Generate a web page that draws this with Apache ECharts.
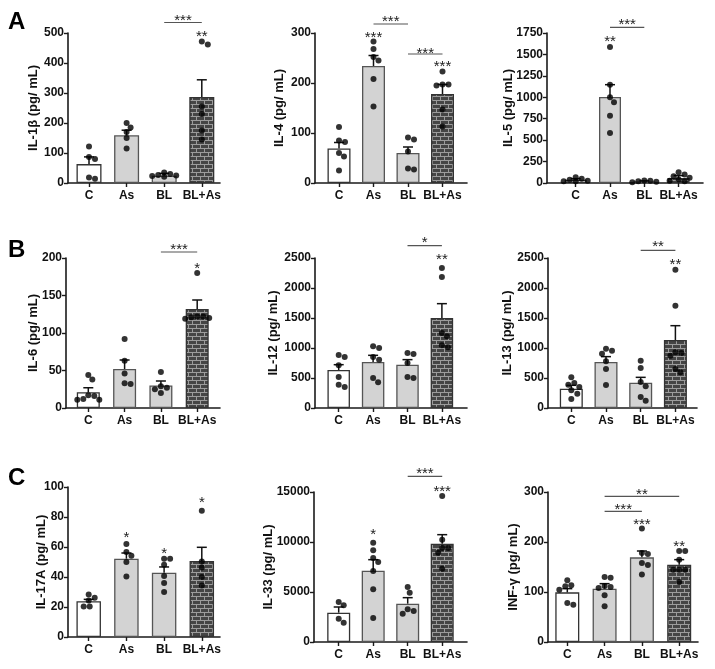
<!DOCTYPE html>
<html><head><meta charset="utf-8">
<script src="https://cdn.jsdelivr.net/npm/echarts@6/dist/echarts.min.js"></script>
<style>html,body{margin:0;padding:0;background:#fff}#chart{width:715px;height:669px}</style>
</head><body><div id="chart"></div>
<script>
// ---------- DATA ----------
const categories = ['C', 'As', 'BL', 'BL+As'];

// IL-1β
const IL1B_ticks = [0, 100, 200, 300, 400, 500];
const IL1B_mean = [63, 159, 24, 287];
const IL1B_sem = [24, 17, 8, 57];
const IL1B_pts = [[122, 87, 80, 18, 14], [200, 185, 170, 150, 115], [35, 30, 27, 25, 23, 21], [472, 462, 255, 230, 175, 145]];
const IL1B_sig = [{ from: 2, to: 3, y: 535, ty: 555, text: '***' }, { at: 3, ty: 500, text: '**' }];

// IL-4
const IL4_ticks = [0, 100, 200, 300];
const IL4_mean = [69, 234, 60, 178];
const IL4_sem = [12, 21, 12, 19];
const IL4_pts = [[112, 85, 82, 60, 53, 25], [283, 268, 252, 245, 208, 153], [91, 87, 63, 29, 27], [223, 197, 197, 195, 147, 113]];
const IL4_sig = [{ from: 1, to: 2, y: 318, ty: 330, text: '***' }, { from: 2, to: 3, y: 258, ty: 267, text: '***' }, { at: 1, ty: 298, text: '***' }, { at: 3, ty: 240, text: '***' }];

// IL-5
const IL5_ticks = [0, 250, 500, 750, 1000, 1250, 1500, 1750];
const IL5_mean = [39, 1003, 19, 58];
const IL5_sem = [11, 144, 6, 28];
const IL5_pts = [[66, 50, 39, 27, 19, 19], [1587, 1147, 1000, 941, 786, 583], [30, 25, 20, 15, 10], [124, 100, 80, 60, 40, 25, 20]];
const IL5_sig = [{ from: 1, to: 2, y: 1816, ty: 1886, text: '***' }, { at: 1, ty: 1692, text: '**' }];

// IL-6
const IL6_ticks = [0, 50, 100, 150, 200];
const IL6_mean = [21, 52, 30, 132];
const IL6_sem = [6, 12, 6, 12];
const IL6_pts = [[44, 38, 17, 16, 12, 11, 11], [92, 63, 46, 33, 32], [48, 29, 27, 25, 20], [180, 122, 122, 121, 120, 119]];
const IL6_sig = [{ from: 2, to: 3, y: 208, ty: 216, text: '***' }, { at: 3, ty: 191, text: '*' }];

// IL-12
const IL12_ticks = [0, 500, 1000, 1500, 2000, 2500];
const IL12_mean = [633, 767, 722, 1500];
const IL12_sem = [89, 111, 84, 239];
const IL12_pts = [[883, 850, 711, 517, 389, 350], [1028, 1000, 850, 806, 500, 428], [917, 900, 750, 517, 500], [2333, 2183, 1250, 1194, 1044, 1011]];
const IL12_sig = [{ from: 2, to: 3, y: 2706, ty: 2822, text: '*' }, { at: 3, ty: 2528, text: '**' }];

// IL-13
const IL13_ticks = [0, 500, 1000, 1500, 2000, 2500];
const IL13_mean = [322, 767, 422, 1133];
const IL13_sem = [56, 89, 89, 239];
const IL13_pts = [[511, 417, 389, 350, 294, 239, 150], [989, 956, 906, 778, 650, 383], [789, 667, 433, 361, 183, 122], [2306, 1706, 928, 917, 872, 650, 594]];
const IL13_sig = [{ from: 2, to: 3, y: 2628, ty: 2750, text: '**' }, { at: 3, ty: 2456, text: '**' }];

// IL-17A
const IL17_ticks = [0, 20, 40, 60, 80, 100];
const IL17_mean = [23.8, 52.2, 42.9, 50.7];
const IL17_sem = [1.3, 3.8, 3.8, 9.1];
const IL17_pts = [[28.4, 26.2, 24.4, 20.4, 20.4], [62, 56.7, 54.2, 50, 40.4], [52.2, 52.2, 48.2, 40.7, 36, 30], [84.2, 50.4, 46.4, 40, 34.4]];
const IL17_sig = [{ at: 1, ty: 68.9, text: '*' }, { at: 2, ty: 58.2, text: '*' }, { at: 3, ty: 91.8, text: '*' }];

// IL-33
const IL33_ticks = [0, 5000, 10000, 15000];
const IL33_mean = [2933, 7133, 3833, 9833];
const IL33_sem = [567, 1100, 600, 900];
const IL33_pts = [[4000, 3667, 2333, 1933], [9933, 9167, 8400, 8000, 7100, 5267, 2400], [5500, 4933, 3267, 3100, 2833], [14600, 10233, 9400, 9400, 8933, 7333]];
const IL33_sig = [{ at: 1, ty: 11067, text: '*' }, { from: 2, to: 3, y: 16567, ty: 17167, text: '***' }, { at: 3, ty: 15433, text: '***' }];

// INF-γ
const INFG_ticks = [0, 100, 200, 300];
const INFG_mean = [99.3, 106.7, 169.3, 154.7];
const INFG_sem = [7.4, 10, 12.7, 10];
const INFG_pts = [[123.3, 113.3, 111.3, 104.7, 78, 74.7], [130, 128.7, 112, 110, 108, 93.3, 71.3], [227, 178, 176, 158, 154, 135], [182, 182, 164.7, 144.7, 144.7, 144.7, 120]];
const INFG_sig = [{ from: 1, to: 3, y: 291.3, ty: 303, text: '**' }, { from: 1, to: 2, y: 261.3, ty: 273, text: '***' }, { at: 2, ty: 243, text: '***' }, { at: 3, ty: 198, text: '**' }];

// ---------- LAYOUT ----------
const panels = [
  { name: 'IL-1β (pg/ mL)', ticks: IL1B_ticks, mean: IL1B_mean, sem: IL1B_sem, pts: IL1B_pts, sig: IL1B_sig, L: { ax: 68, c0: 89, s: 37.6, right: 220, top: 33, bottom: 183, bw: 25, gap: 28.5 } },
  { name: 'IL-4 (pg/ mL)', ticks: IL4_ticks, mean: IL4_mean, sem: IL4_sem, pts: IL4_pts, sig: IL4_sig, L: { ax: 315, c0: 339, s: 34.5, right: 467, top: 33, bottom: 183, bw: 23, gap: 29.5 } },
  { name: 'IL-5 (pg/ mL)', ticks: IL5_ticks, mean: IL5_mean, sem: IL5_sem, pts: IL5_pts, sig: IL5_sig, L: { ax: 547, c0: 575.7, s: 34.3, right: 703, top: 33, bottom: 183, bw: 22, gap: 32.5 } },
  { name: 'IL-6 (pg/ mL)', ticks: IL6_ticks, mean: IL6_mean, sem: IL6_sem, pts: IL6_pts, sig: IL6_sig, L: { ax: 66, c0: 88.3, s: 36.3, right: 220, top: 258, bottom: 408, bw: 23, gap: 26.5 } },
  { name: 'IL-12 (pg/ mL)', ticks: IL12_ticks, mean: IL12_mean, sem: IL12_sem, pts: IL12_pts, sig: IL12_sig, L: { ax: 315, c0: 338.7, s: 34.4, right: 467, top: 258, bottom: 408, bw: 22.5, gap: 35.5 } },
  { name: 'IL-13 (pg/ mL)', ticks: IL13_ticks, mean: IL13_mean, sem: IL13_sem, pts: IL13_pts, sig: IL13_sig, L: { ax: 548, c0: 571.3, s: 34.7, right: 697, top: 258, bottom: 408, bw: 23, gap: 34.5 } },
  { name: 'IL-17A (pg/ mL)', ticks: IL17_ticks, mean: IL17_mean, sem: IL17_sem, pts: IL17_pts, sig: IL17_sig, L: { ax: 68, c0: 88.7, s: 37.7, right: 220, top: 487, bottom: 637, bw: 24.5, gap: 20 } },
  { name: 'IL-33 (pg/ mL)', ticks: IL33_ticks, mean: IL33_mean, sem: IL33_sem, pts: IL33_pts, sig: IL33_sig, L: { ax: 314, c0: 338.7, s: 34.5, right: 467, top: 492, bottom: 642, bw: 23, gap: 39.5 } },
  { name: 'INF-γ (pg/ mL)', ticks: INFG_ticks, mean: INFG_mean, sem: INFG_sem, pts: INFG_pts, sig: INFG_sig, L: { ax: 548, c0: 567.3, s: 37.3, right: 698, top: 492, bottom: 642, bw: 24, gap: 28.5 } }
];

const FONT = "'Liberation Sans', Arial, sans-serif";
const AXIS = '#1a1a1a';

function brickCanvas() {
  const c = document.createElement('canvas');
  c.width = 8; c.height = 8;
  const g = c.getContext('2d');
  g.fillStyle = '#454545'; g.fillRect(0, 0, 8, 8);
  g.fillStyle = '#9c9c9c';
  g.fillRect(0, 0, 8, 1); g.fillRect(0, 4, 8, 1);
  g.fillRect(0, 1, 1, 3); g.fillRect(4, 5, 1, 3);
  return c;
}
const brick = brickCanvas();
const fills = ['#ffffff', '#d3d3d3', '#d3d3d3', { image: brick, repeat: 'repeat' }];
const borders = ['#333333', '#555555', '#555555', '#333333'];

function swarm(vals, pxPerVal, diam) {
  const placed = [];
  return vals.map(v => {
    const py = v * pxPerVal;
    const cands = [0];
    for (let k = 1; k <= 14; k++) cands.push(k, -k);
    for (const o of cands) {
      if (placed.every(p => Math.hypot(p.y - py, p.o - o) >= diam)) { placed.push({ y: py, o }); return o; }
    }
    placed.push({ y: py, o: 0 }); return 0;
  });
}

const grid = [], xAxis = [], yAxis = [], series = [];
panels.forEach((p, i) => {
  const L = p.L;
  const c3 = L.c0 + 3 * L.s;
  const ymax = p.ticks[p.ticks.length - 1];
  const pxPerVal = (L.bottom - L.top) / ymax;
  grid.push({ left: L.ax, top: L.top, width: L.right - L.ax, height: L.bottom - L.top });
  xAxis.push({
    type: 'value', gridIndex: i,
    min: -(L.c0 - L.ax) / L.s, max: 3 + (L.right - c3) / L.s,
    splitLine: { show: false },
    axisLine: { show: true, onZero: false, lineStyle: { color: AXIS, width: 1.6 } },
    axisTick: { show: true, customValues: [0, 1, 2, 3], length: 4, lineStyle: { color: AXIS, width: 1.4 } },
    axisLabel: { customValues: [0, 1, 2, 3], formatter: v => categories[Math.round(v)], fontFamily: FONT, fontWeight: 'bold', fontSize: 12, color: '#111', margin: 7 }
  });
  yAxis.push({
    type: 'value', gridIndex: i, min: p.ticks[0], max: ymax, interval: p.ticks[1] - p.ticks[0],
    name: p.name, nameLocation: 'middle', nameRotate: 90, nameGap: L.gap, nameMoveOverlap: false,
    nameTextStyle: { fontFamily: FONT, fontWeight: 'bold', fontSize: 13, color: '#111' },
    splitLine: { show: false },
    axisLine: { show: true, onZero: false, lineStyle: { color: AXIS, width: 1.6 } },
    axisTick: { show: true, length: 4, lineStyle: { color: AXIS, width: 1.4 } },
    axisLabel: { formatter: v => String(v), fontFamily: FONT, fontWeight: 'bold', fontSize: 12, color: '#111', margin: 4 }
  });
  series.push({
    type: 'bar', xAxisIndex: i, yAxisIndex: i, barWidth: L.bw, z: 2,
    data: p.mean.map((m, k) => ({ value: [k, m], itemStyle: { color: fills[k], borderColor: borders[k], borderWidth: 1.3 } }))
  });
  series.push({
    type: 'custom', xAxisIndex: i, yAxisIndex: i, z: 3,
    data: p.mean.map((m, k) => [k, m, m + p.sem[k]]),
    renderItem: (params, api) => {
      const a = api.coord([api.value(0), api.value(1)]);
      const b = api.coord([api.value(0), api.value(2)]);
      const st = { stroke: '#111', lineWidth: 1.5 };
      return { type: 'group', children: [
        { type: 'line', shape: { x1: a[0], y1: a[1], x2: b[0], y2: b[1] }, style: st },
        { type: 'line', shape: { x1: b[0] - 5, y1: b[1], x2: b[0] + 5, y2: b[1] }, style: st }
      ] };
    }
  });
  const ptsData = [];
  p.pts.forEach((arr, k) => {
    const offs = swarm(arr, pxPerVal, 6);
    arr.forEach((v, j) => ptsData.push([k + offs[j] / L.s, v]));
  });
  series.push({
    type: 'scatter', xAxisIndex: i, yAxisIndex: i, z: 4, symbolSize: 6,
    itemStyle: { color: '#000' }, data: ptsData
  });
  series.push({
    type: 'custom', xAxisIndex: i, yAxisIndex: i, z: 5, clip: false,
    data: p.sig.map(s => [s.at !== undefined ? s.at : s.from, s.ty]),
    renderItem: (params, api) => {
      const s = p.sig[params.dataIndex];
      const children = [];
      let cx;
      if (s.at !== undefined) {
        cx = api.coord([s.at, 0])[0];
      } else {
        const a = api.coord([s.from, s.y]);
        const b = api.coord([s.to, s.y]);
        children.push({ type: 'line', shape: { x1: a[0], y1: a[1], x2: b[0], y2: b[1] }, style: { stroke: '#555', lineWidth: 1.2 } });
        cx = (a[0] + b[0]) / 2;
      }
      const ty = api.coord([0, s.ty])[1];
      children.push({ type: 'text', style: { text: s.text, x: cx, y: ty + 4, align: 'center', verticalAlign: 'middle', font: '15px ' + FONT, fill: '#222' } });
      return { type: 'group', children };
    }
  });
});

const chart = echarts.init(document.getElementById('chart'), null, { renderer: 'canvas' });
chart.setOption({
  animation: false,
  backgroundColor: '#fff',
  grid, xAxis, yAxis, series,
  graphic: [
    { type: 'text', left: 8, top: 10, style: { text: 'A', font: 'bold 24px ' + FONT, fill: '#000' } },
    { type: 'text', left: 8, top: 238, style: { text: 'B', font: 'bold 24px ' + FONT, fill: '#000' } },
    { type: 'text', left: 8, top: 466, style: { text: 'C', font: 'bold 24px ' + FONT, fill: '#000' } }
  ]
});
</script></body></html>
